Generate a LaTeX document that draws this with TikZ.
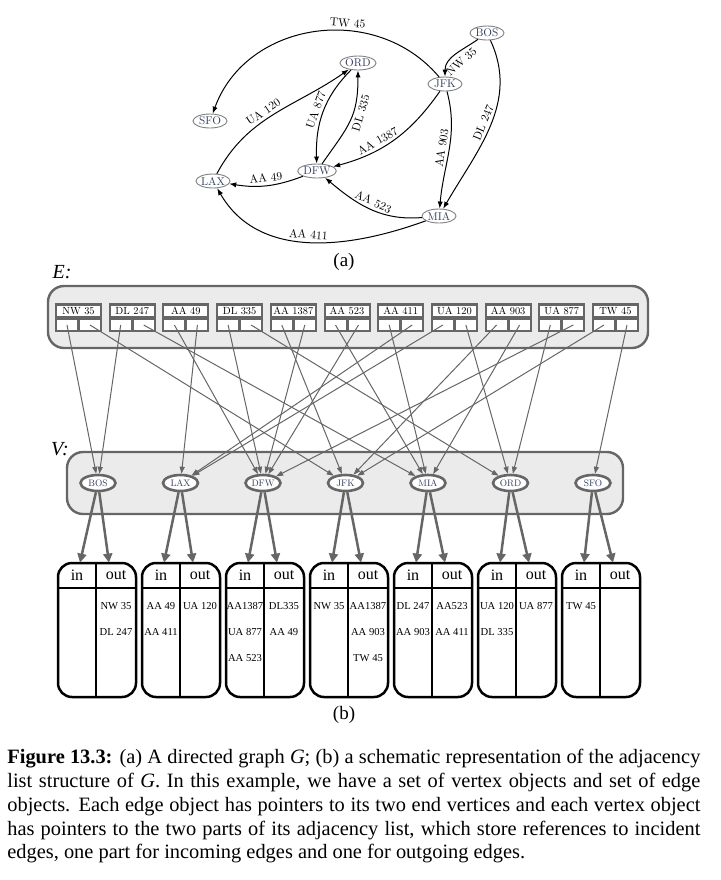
\documentclass[tikz,border=0pt]{standalone}
\usepackage{fontspec}
\usepackage{tikz}
\usetikzlibrary{shapes.geometric, arrows.meta, positioning, calc}
\newfontfamily\timesfont{Liberation Serif}
\newfontfamily\lmten{lmroman10-regular}[Extension=.otf]
\definecolor{framegray}{HTML}{666666}
\definecolor{boxgray}{HTML}{EBEBEB}
\definecolor{rimgray}{HTML}{808080}
\definecolor{citytext}{HTML}{34405E}

\begin{document}
\begin{tikzpicture}[x=0.5pt, y=-0.5pt,
  city/.style={draw=rimgray, ellipse, line width=0.45pt, inner sep=0pt, minimum width=17pt, minimum height=7pt, text=citytext, font=\lmten\fontsize{5.6}{6}\selectfont},
  flight/.style={-{Latex[length=3.5pt,width=2.6pt]}, line width=0.5pt},
  flightlbl/.style={font=\lmten\fontsize{5.8}{6.5}\selectfont, inner sep=1.5pt, sloped},
  setbox/.style={draw=framegray, fill=boxgray, line width=1.2pt, rounded corners=8pt},
  eframe/.style={fill=framegray, inner sep=0pt, minimum width=23.5pt, minimum height=14.5pt},
  elabel/.style={fill=white, inner sep=0pt, minimum width=21.5pt, minimum height=5pt, font=\lmten\fontsize{5.2}{5}\selectfont},
  ecell/.style={fill=white, inner sep=0pt, minimum width=10pt, minimum height=5pt},
  vtx/.style={draw=framegray, fill=white, ellipse, line width=1.3pt, inner sep=0pt, minimum width=17.5pt, minimum height=8pt, text=citytext, font=\lmten\fontsize{4.7}{5}\selectfont},
  ptr/.style={draw=framegray, line width=0.5pt, -{Triangle[length=3.5pt,width=2.5pt]}},
  bigptr/.style={draw=framegray, line width=1.25pt, -{Triangle[length=4.5pt,width=4.5pt]}},
  listbox/.style={draw=black, line width=1.25pt, rounded corners=7pt},
  listhead/.style={inner sep=0pt, minimum width=19pt, minimum height=12.5pt, font=\timesfont\fontsize{8}{8}\selectfont},
  listitem/.style={inner sep=0pt, font=\timesfont\fontsize{5.3}{6}\selectfont}]
  \useasboundingbox (0,0) rectangle (720,880);

  % (a) the directed graph
  \node[city] (sfo) at (210,121) {SFO};
  \node[city] (ord) at (358,63) {ORD};
  \node[city] (bos) at (487,33) {BOS};
  \node[city] (jfk) at (445,84) {JFK};
  \node[city] (lax) at (213,181) {LAX};
  \node[city] (dfw) at (317,171) {DFW};
  \node[city] (mia) at (439,216) {MIA};

  \draw[flight] (jfk) to[out=130, in=70, looseness=1.1] node[flightlbl, above, pos=0.38] {TW 45} (sfo);
  \draw[flight] (bos) to[out=215, in=90] node[flightlbl, below, pos=0.5, inner sep=2.2pt] {NW 35} (jfk);
  \draw[flight] (bos) to[out=-65, in=60] node[flightlbl, above, pos=0.5] {DL 247} (mia);
  \draw[flight] (jfk) to[out=-75, in=85] node[flightlbl, above, pos=0.5] {AA 903} (mia);
  \draw[flight] (jfk) to[out=235, in=15] node[flightlbl, above, pos=0.62] {AA 1387} (dfw);
  \draw[flight] (dfw) to[out=55, in=-90, looseness=1.2] node[flightlbl, below, pos=0.62] {DL 335} (ord);
  \draw[flight] (ord) to[out=225, in=92] node[flightlbl, above, pos=0.5] {UA 877} (dfw);
  \draw[flight] (lax) to[out=62, in=215] node[flightlbl, above, pos=0.45] {UA 120} (ord);
  \draw[flight] (dfw) to[bend left=15] node[flightlbl, above, pos=0.5] {AA 49} (lax);
  \draw[flight] (mia) to[out=185, in=-40] node[flightlbl, above, pos=0.5] {AA 523} (dfw);
  \draw[flight] (mia) to[out=200, in=-60] node[flightlbl, above, pos=0.5] {AA 411} (lax);

  \node[font=\timesfont\fontsize{9.5}{10}\selectfont] (capa) at (344,262) {(a)};

  % (b) edge objects, vertex objects and incidence lists
  \node[font=\timesfont\itshape\fontsize{10}{10}\selectfont] (elbl) at (62,272) {E:};
  \draw[setbox] (48,286) rectangle (648,348);
  \node[font=\timesfont\itshape\fontsize{10}{10}\selectfont] (vlbl) at (60,449) {V:};
  \draw[setbox] (67,452) rectangle (623,514);

  \foreach \name [count=\i from 0] in {BOS,LAX,DFW,JFK,MIA,ORD,SFO}
    \node[vtx] (v-\name) at ({98+82.5*\i},483) {\name};

  \foreach \code/\org/\dst [count=\i from 0] in {NW 35/BOS/JFK, DL 247/BOS/MIA, AA 49/DFW/LAX, DL 335/DFW/ORD, AA 1387/JFK/DFW, AA 523/MIA/DFW, AA 411/MIA/LAX, UA 120/LAX/ORD, AA 903/JFK/MIA, UA 877/ORD/DFW, TW 45/JFK/SFO} {
    \node[eframe] (eo\i) at ({78.5+53.7*\i},317.5) {};
    \node[elabel] (el\i) at ({78.5+53.7*\i},311) {\code};
    \node[ecell] (eo\i-a) at ({67+53.7*\i},325) {};
    \node[ecell] (eo\i-b) at ({90+53.7*\i},325) {};
    \draw[ptr] (eo\i-a.center) -- (v-\org);
    \draw[ptr] (eo\i-b.center) -- (v-\dst);
  }

  \foreach \name/\ins/\outs [count=\i from 0] in {BOS/{}/{NW 35,DL 247}, LAX/{AA 49,AA 411}/{UA 120}, DFW/{AA1387,UA 877,AA 523}/{DL335,AA 49}, JFK/{NW 35}/{AA1387,AA 903,TW 45}, MIA/{DL 247,AA 903}/{AA523,AA 411}, ORD/{UA 120,DL 335}/{UA 877}, SFO/{TW 45}/{}} {
    \draw[listbox] ({58+84*\i},563) rectangle ({136+84*\i},697);
    \draw[line width=1.25pt] ({96+84*\i},563) -- ({96+84*\i},697);
    \draw[line width=1.25pt] ({58+84*\i},588) -- ({136+84*\i},588);
    \node[listhead] (in-\name) at ({77+84*\i},575.5) {in};
    \node[listhead] (out-\name) at ({116+84*\i},575.5) {out};
    \draw[bigptr] (v-\name) -- ([xshift=1.5pt]in-\name.north);
    \draw[bigptr] (v-\name) -- ([xshift=-3.5pt]out-\name.north);
    \foreach \t [count=\j from 0] in \ins \node[listitem] at ({77+84*\i},{606+26*\j}) {\t};
    \foreach \t [count=\j from 0] in \outs \node[listitem] at ({116+84*\i},{606+26*\j}) {\t};
  }

  \node[font=\timesfont\fontsize{9.5}{10}\selectfont] (capb) at (344,715) {(b)};

  \node[anchor=north west, text width=346.5pt, align=justify, inner sep=0pt, font=\timesfont\fontsize{10.2}{11.9}\selectfont] (caption) at (7,749)
    {\textbf{Figure 13.3:} (a) A directed graph \textit{G}; (b) a schematic representation of the adjacency\linebreak
     list structure of \textit{G}. In this example, we have a set of vertex objects and set of edge\linebreak
     objects. Each edge object has pointers to its two end vertices and each vertex object\linebreak
     has pointers to the two parts of its adjacency list, which store references to incident\linebreak
     edges, one part for incoming edges and one for outgoing edges.};
\end{tikzpicture}
\end{document}
